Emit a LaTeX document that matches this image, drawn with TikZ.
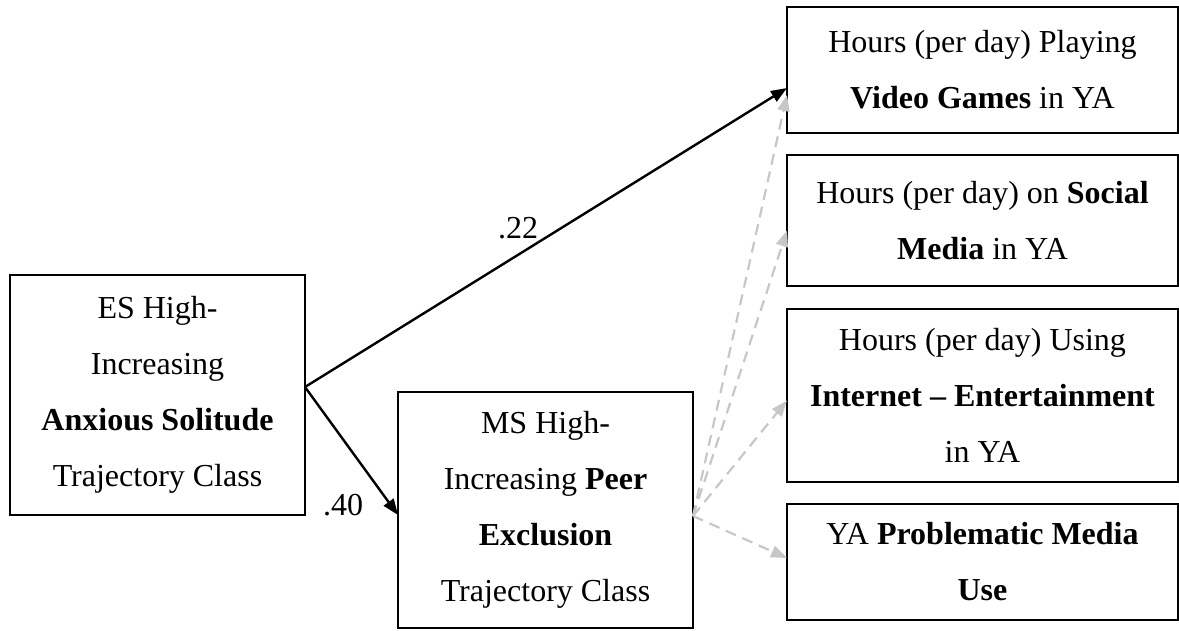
\documentclass[tikz,border=0pt]{standalone}
\usepackage{fontspec}
\setmainfont{Liberation Serif}
\usetikzlibrary{arrows.meta}
\begin{document}
\begin{tikzpicture}[x=1pt,y=-1pt,
  box/.style={draw=black,line width=2.2pt,inner sep=0pt,outer sep=0pt,align=center,
    font={\fontsize{32}{56}\selectfont}},
  lbl/.style={font={\fontsize{32}{36}\selectfont},inner sep=0pt},
  solidarrow/.style={draw=black,line width=2.4pt,-{Triangle[length=16pt,width=12pt]}},
  grayarrow/.style={draw=black!22,line width=2.2pt,dash pattern=on 11pt off 7pt,
    -{Triangle[length=16pt,width=12pt]}}]
\useasboundingbox (0,0) rectangle (1179,630);
\node[box,minimum width=295pt,minimum height=240pt] (b1) at (157.5,395)
  {ES High-\\Increasing\\\textbf{Anxious Solitude}\\Trajectory Class};
\node[box,minimum width=295pt,minimum height=236pt] (b2) at (545.5,510)
  {MS High-\\Increasing \textbf{Peer}\\\textbf{Exclusion}\\Trajectory Class};
\node[box,minimum width=391pt,minimum height=126pt] (vg) at (982.5,70)
  {Hours (per day) Playing\\\textbf{Video Games} in YA};
\node[box,minimum width=391pt,minimum height=131pt] (sm) at (982.5,220.5)
  {Hours (per day) on \textbf{Social}\\\textbf{Media} in YA};
\node[box,minimum width=391pt,minimum height=173pt] (ie) at (982.5,395.5)
  {Hours (per day) Using\\\textbf{Internet – Entertainment}\\in YA};
\node[box,minimum width=391pt,minimum height=116pt] (pm) at (982.5,562)
  {YA \textbf{Problematic Media}\\\textbf{Use}};
\draw[solidarrow] ([yshift=8pt]b1.east) -- ([yshift=-18pt]vg.west);
\draw[solidarrow] ([yshift=8pt]b1.east) -- ([yshift=-5pt]b2.west);
\draw[grayarrow] ([yshift=-6pt]b2.east) -- ([yshift=-25pt]vg.west);
\draw[grayarrow] ([yshift=-6pt]b2.east) -- ([yshift=-10pt]sm.west);
\draw[grayarrow] ([yshift=-6pt]b2.east) -- ([yshift=-5pt]ie.west);
\draw[grayarrow] ([yshift=-6pt]b2.east) -- ([yshift=4pt]pm.west);
\node[lbl] (l22) at (518,228) {.22};
\node[lbl] (l40) at (343,505) {.40};
\end{tikzpicture}
\end{document}
